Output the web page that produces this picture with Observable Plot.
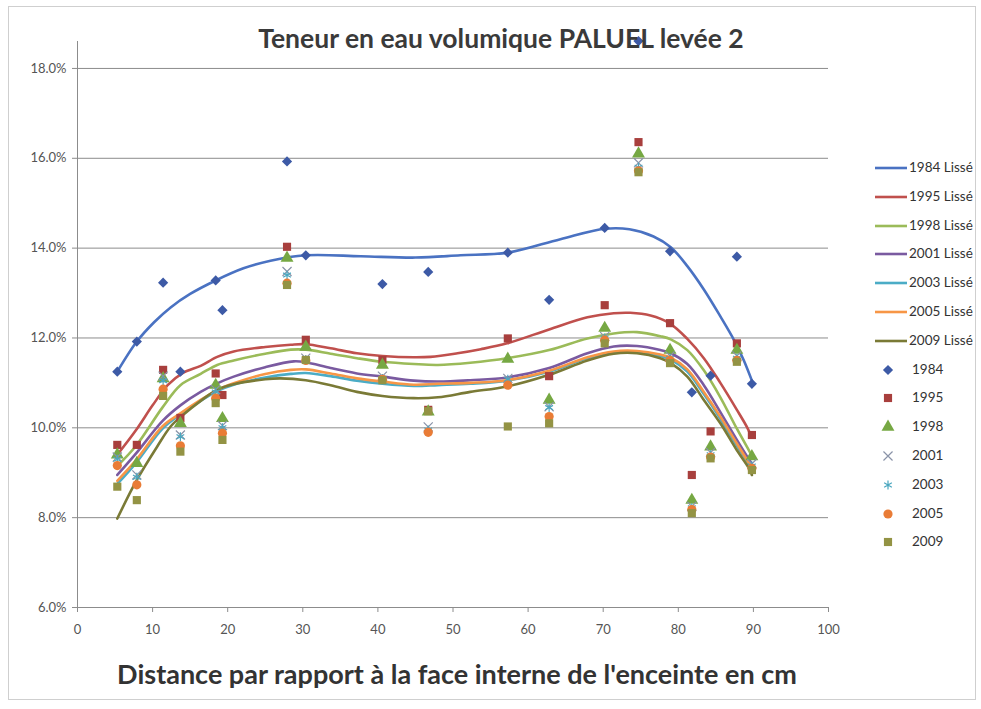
<!DOCTYPE html>
<html>
<head>
<meta charset="utf-8">
<script src="https://cdn.jsdelivr.net/npm/d3@7"></script>
<script src="https://cdn.jsdelivr.net/npm/@observablehq/plot@0.6"></script>
<style>
  body { margin:0; background:#fff; font-family: Lato, "Open Sans", sans-serif; }
  #wrap { position:relative; width:981px; height:709px; overflow:hidden; }
  #plot { position:absolute; left:0; top:0; }
  #frame { position:absolute; left:8px; top:6px; width:968px; height:694px; border:1px solid #cfcfcf; box-sizing:border-box; }
  #title { position:absolute; left:0; width:1002px; top:22px; text-align:center; font-weight:700; font-size:26.5px; color:#3a3a3a; }
  #xlabel { position:absolute; left:0; width:914px; top:657px; text-align:center; font-weight:700; font-size:27px; color:#333; }
  #legend { position:absolute; left:870px; top:0; font-size:13.5px; color:#333; }
  .row { position:absolute; left:0; height:20px; width:108px; }
  .row svg { position:absolute; left:0; top:0; }
  .row span { position:absolute; top:1px; white-space:nowrap; }
</style>
</head>
<body>
<div id="wrap">
  <div id="frame"></div>
  <div id="plot"></div>
  <div id="title">Teneur en eau volumique PALUEL levée 2</div>
  <div id="xlabel">Distance par rapport à la face interne de l'enceinte en cm</div>
  <div id="legend"></div>
</div>
<script>
// ---- Data ----
const years = ["1984", "1995", "1998", "2001", "2003", "2005", "2009"];
const dist = [5.3, 7.9, 11.4, 13.7, 18.4, 19.3, 27.9, 30.4, 40.6, 46.7, 57.3, 62.8, 70.2, 74.7, 78.9, 81.8, 84.3, 87.8, 89.8];

const v1984 = [11.25, 11.92, 13.23, 11.25, 13.28, 12.62, 15.93, 13.84, 13.20, 13.47, 13.90, 12.85, 14.45, 18.61, 13.93, 10.79, 11.16, 13.81, 10.98];
const v1995 = [9.62, 9.62, 11.29, 10.22, 11.21, 10.73, 14.03, 11.96, 11.51, 10.40, 11.99, 11.15, 12.73, 16.36, 12.33, 8.95, 9.92, 11.88, 9.84];
const v1998 = [9.40, 9.21, 11.10, 10.10, 10.95, 10.21, 13.78, 11.80, 11.40, 10.36, 11.53, 10.62, 12.22, 16.10, 11.73, 8.39, 9.58, 11.73, 9.36];
const v2001 = [9.35, 8.95, 11.15, 9.84, 10.85, 10.05, 13.48, 11.55, 11.15, 10.02, 11.10, 10.47, 12.03, 15.90, 11.60, 8.25, 9.45, 11.60, 9.20];
const v2003 = [9.30, 8.90, 11.05, 9.80, 10.80, 10.00, 13.40, 11.52, 11.10, 9.95, 11.08, 10.45, 12.00, 15.80, 11.55, 8.22, 9.40, 11.55, 9.15];
const v2005 = [9.16, 8.73, 10.86, 9.60, 10.66, 9.88, 13.22, 11.50, 11.08, 9.90, 10.95, 10.25, 11.95, 15.72, 11.50, 8.18, 9.35, 11.50, 9.10];
const v2009 = [8.69, 8.39, 10.71, 9.47, 10.55, 9.73, 13.18, 11.51, 11.06, 10.37, 10.03, 10.10, 11.88, 15.69, 11.44, 8.10, 9.32, 11.47, 9.06];

// Smoothed curves ("Lissé"): [distance, %]
const s1984 = [[5.3,11.25],[7.9,11.92],[10.2,12.35],[12.4,12.68],[15,12.98],[18.4,13.28],[22.1,13.55],[25.7,13.72],[30.4,13.84],[37.7,13.82],[45,13.79],[51,13.84],[57.3,13.9],[64.3,14.2],[70.2,14.43],[73.5,14.42],[76.7,14.26],[79,14.02],[81.2,13.6],[83.4,13.08],[85.6,12.48],[87.4,11.96],[88.7,11.51],[89.8,11.05]];
const s1995 = [[5.3,9.4],[7.8,9.95],[10,10.5],[12,10.95],[14,11.22],[16.4,11.38],[18.6,11.58],[20.8,11.7],[25,11.8],[28.4,11.85],[30.4,11.86],[33.7,11.77],[37.2,11.66],[40.6,11.6],[44.8,11.57],[47,11.58],[50.6,11.66],[53.7,11.75],[57.2,11.88],[62.8,12.19],[67.9,12.46],[71.4,12.55],[73.6,12.56],[76.3,12.5],[78.8,12.33],[81.2,11.98],[83.4,11.55],[85.6,11.0],[87.8,10.4],[89.2,10.0],[89.8,9.78]];
const s1998 = [[5.3,9.15],[7.8,9.6],[11.3,10.45],[13.7,10.95],[16.4,11.2],[18.6,11.4],[20.8,11.5],[25,11.65],[28.4,11.74],[30.4,11.74],[33.7,11.65],[37.2,11.55],[40.6,11.47],[44.8,11.42],[48,11.4],[52.3,11.45],[57.2,11.55],[62.8,11.73],[67.9,11.99],[71.4,12.1],[74.5,12.13],[77.6,12.04],[79,11.97],[81.2,11.73],[83.4,11.28],[85.6,10.68],[87.8,9.98],[89.4,9.5],[89.8,9.38]];
const s2001 = [[5.3,8.95],[7.8,9.43],[11.3,10.15],[13.7,10.5],[16.4,10.8],[18.6,10.99],[20.8,11.14],[25,11.35],[28.8,11.48],[30.4,11.46],[33.7,11.33],[37.2,11.21],[40.6,11.14],[44.8,11.05],[48,11.03],[52.3,11.06],[57.2,11.12],[62.8,11.33],[67.9,11.66],[71.4,11.81],[74.5,11.82],[77.6,11.73],[79,11.66],[81.2,11.42],[83.4,10.95],[85.6,10.35],[87.8,9.73],[89.4,9.3],[89.8,9.2]];
const s2003 = [[5.3,8.75],[7.8,9.22],[11.3,9.98],[13.7,10.3],[16.4,10.6],[18.6,10.82],[20.8,10.96],[25,11.12],[28.4,11.2],[30.4,11.22],[33.7,11.15],[37.2,11.05],[40.6,10.98],[44.8,10.93],[48,10.95],[52.3,10.98],[57.2,11.05],[62.8,11.25],[67.9,11.55],[71.4,11.68],[74.5,11.68],[77.6,11.6],[79,11.52],[81.2,11.25],[83.4,10.75],[85.6,10.2],[87.8,9.6],[89.4,9.2],[89.8,9.1]];
const s2005 = [[5.3,8.82],[7.8,9.28],[11.3,10.03],[13.7,10.32],[16.4,10.62],[18.6,10.84],[20.8,10.99],[25,11.2],[28.4,11.29],[30.4,11.3],[33.7,11.21],[37.2,11.1],[40.6,11.03],[44.8,10.96],[48,10.98],[52.3,11.0],[57.2,11.06],[62.8,11.27],[67.9,11.57],[71.4,11.7],[74.5,11.71],[77.6,11.63],[79,11.56],[81.2,11.3],[83.4,10.8],[85.6,10.25],[87.8,9.65],[89.4,9.22],[89.8,9.12]];
const s2009 = [[5.3,7.98],[7.9,8.84],[10.6,9.58],[12.4,10.03],[14,10.28],[16.4,10.6],[18.6,10.85],[20.8,10.97],[25,11.08],[27,11.1],[30.4,11.06],[33.7,10.95],[37.2,10.8],[40.6,10.71],[44.8,10.66],[48,10.68],[52.3,10.8],[57.2,10.92],[62.8,11.18],[67.9,11.5],[71.4,11.65],[74.5,11.66],[77.6,11.55],[79,11.44],[81.2,11.14],[83.4,10.62],[85.6,10.1],[87.8,9.5],[89.4,9.1],[89.8,8.95]];

const xTicks = [0, 10, 20, 30, 40, 50, 60, 70, 80, 90, 100];
const yTicks = [6, 8, 10, 12, 14, 16, 18];

// ---- Styles ----
const lineColors = ["#4a72c2", "#c0504d", "#9bbb59", "#7a5aa0", "#4bacc6", "#f79646", "#7a7a36"];
const markColors = ["#3d5aa6", "#a83f3d", "#76a843", "#8a93a8", "#4aa7bf", "#e97c36", "#939344"];
const symbols = ["diamond2", "square", "triangle", "times", "asterisk", "circle", "square"];
const radii = [4.6, 4.6, 4.8, 4.2, 4.2, 4.6, 4.6];
const filled = [true, true, true, false, false, true, true];

const values = [v1984, v1995, v1998, v2001, v2003, v2005, v2009];
const smooths = [s1984, s1995, s1998, s2001, s2003, s2005, s2009];

const lineMarks = smooths.map((s, i) => Plot.line(s, {
  x: d => d[0], y: d => d[1], stroke: lineColors[i], strokeWidth: 2.6, curve: "catmull-rom"
}));

const dotMarks = values.map((vals, i) => {
  const rows = vals.map((v, j) => ({x: dist[j], y: v}));
  const opts = {x: "x", y: "y", symbol: symbols[i], r: radii[i]};
  if (filled[i]) { opts.fill = markColors[i]; opts.stroke = "none"; }
  else { opts.stroke = markColors[i]; opts.strokeWidth = 1.2; opts.fill = "none"; }
  return Plot.dot(rows, opts);
});

const chart = Plot.plot({
  width: 981,
  height: 709,
  marginLeft: 77,
  marginRight: 153,
  marginTop: 41,
  marginBottom: 102,
  style: {fontFamily: "Lato, 'Open Sans', sans-serif", fontSize: "13px", color: "#555", background: "transparent"},
  x: {domain: [0, 100]},
  y: {domain: [6, 18.6]},
  marks: [
    Plot.gridY(yTicks.filter(t => t > 6), {stroke: "#8c8c8c", strokeOpacity: 1, strokeWidth: 1}),
    Plot.ruleX([0], {stroke: "#8c8c8c"}),
    Plot.ruleY([6], {stroke: "#8c8c8c"}),
    Plot.axisX({ticks: xTicks, tickSize: 5, tickPadding: 12, label: null, stroke: "#8c8c8c", fill: "#555", tickFormat: d => String(d)}),
    Plot.axisY({ticks: yTicks, tickSize: 5, tickPadding: 6, label: null, stroke: "#8c8c8c", fill: "#555", tickFormat: d => d.toFixed(1) + "%"}),
    ...lineMarks,
    ...dotMarks
  ]
});
document.getElementById("plot").appendChild(chart);

// ---- Legend ----
const legend = document.getElementById("legend");
const rowY0 = 168, rowStep = 28.8;
years.forEach((yr, i) => {
  const row = document.createElement("div");
  row.className = "row";
  row.style.top = (rowY0 + i * rowStep - 10) + "px";
  row.innerHTML = `<svg width="40" height="20"><line x1="5" x2="37" y1="10" y2="10" stroke="${lineColors[i]}" stroke-width="2.6"/></svg><span style="left:39px">${yr} Lissé</span>`;
  legend.appendChild(row);
});
years.forEach((yr, i) => {
  const row = document.createElement("div");
  row.className = "row";
  row.style.top = (rowY0 + (i + 7) * rowStep - 10) + "px";
  const symMap = {diamond2: d3.symbolDiamond2, square: d3.symbolSquare, triangle: d3.symbolTriangle, times: d3.symbolTimes, asterisk: d3.symbolAsterisk, circle: d3.symbolCircle};
  const path = d3.symbol(symMap[symbols[i]], radii[i] * radii[i] * Math.PI)();
  const style = filled[i] ? `fill="${markColors[i]}"` : `fill="none" stroke="${markColors[i]}" stroke-width="1.2"`;
  row.innerHTML = `<svg width="40" height="20"><path transform="translate(18,10)" d="${path}" ${style}/></svg><span style="left:42px">${yr}</span>`;
  legend.appendChild(row);
});
</script>
</body>
</html>
